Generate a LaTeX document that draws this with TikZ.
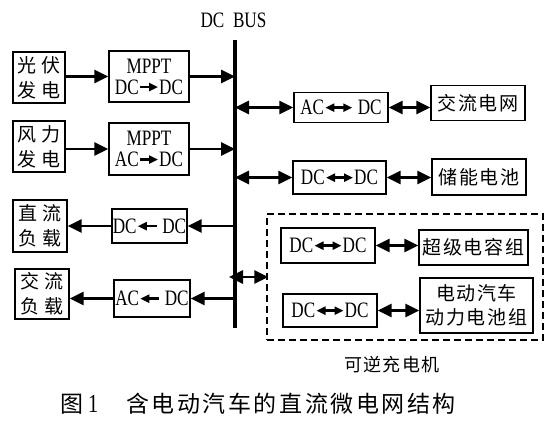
\documentclass[tikz,border=0pt]{standalone}
\usepackage{fontspec}
\setmainfont[FakeStretch=0.78]{Liberation Serif}
\newfontfamily\cjk[LetterSpace=8]{Noto Sans CJK SC}
\newfontfamily\cjkw[LetterSpace=25]{Noto Sans CJK SC}
\newfontfamily\cjkc[LetterSpace=11]{Noto Sans CJK SC}
\usetikzlibrary{arrows.meta}
\newcommand\rA{\tikz[baseline={(0pt,-7pt)}]\draw[line width=2.4pt,-{Triangle[length=9pt,width=8pt]}](0pt,0pt)--(18pt,0pt);}
\newcommand\lA{\tikz[baseline={(0pt,-7pt)}]\draw[line width=2.4pt,{Triangle[length=9pt,width=8pt]}-](0pt,0pt)--(19pt,0pt);}
\newcommand\bA{\tikz[baseline={(0pt,-7pt)}]\draw[line width=2.4pt,{Triangle[length=9pt,width=8pt]}-{Triangle[length=9pt,width=8pt]}](0pt,0pt)--(27pt,0pt);}
\tikzset{
  box/.style={draw, line width=1.4pt, inner sep=0pt, align=center, font=\fontsize{22}{21}\selectfont},
  conn/.style={line width=2.8pt, -{Triangle[length=14pt,width=13pt]}},
  bconn/.style={line width=2.8pt, {Triangle[length=14pt,width=13pt]}-{Triangle[length=14pt,width=13pt]}},
}
\begin{document}
\begin{tikzpicture}[x=1pt,y=-1pt]
\useasboundingbox (0,0) rectangle (553,432);
% bus
\coordinate (bustop) at (235,40);
\coordinate (busbot) at (235,328);
\draw[line width=3.2pt] (bustop) -- (busbot);
\node[font=\fontsize{22}{22}\selectfont] (buslabel) at (233.5,20) {DC\ \ BUS};
% left sources
\node[box,minimum width=52pt,minimum height=51pt,font=\fontsize{19}{25}\cjkw] (pv) at (39,77.5) {光伏\\发电};
\node[box,minimum width=80pt,minimum height=51pt] (mppt1) at (149,76.5) {MPPT\\DC\rA DC};
\node[box,minimum width=52pt,minimum height=51pt,font=\fontsize{19}{25}\cjkw] (wind) at (39,146.5) {风力\\发电};
\node[box,minimum width=80pt,minimum height=52pt] (mppt2) at (149,149) {MPPT\\AC\rA DC};
% left loads
\node[box,minimum width=54pt,minimum height=52pt,font=\fontsize{19}{25}\cjkw] (dcload) at (40,226) {直流\\负载};
\node[box,minimum width=75pt,minimum height=34pt] (dcdc1) at (149.5,226) {DC\lA\ DC};
\node[box,minimum width=54pt,minimum height=50pt,font=\fontsize{19}{25}\cjkw] (acload) at (42,294) {交流\\负载};
\node[box,minimum width=76pt,minimum height=37pt] (acdc2) at (152,298.5) {AC\lA\ DC};
% right side
\node[box,minimum width=94pt,minimum height=30pt] (acdc) at (341,107.5) {AC\bA\ DC};
\node[box,minimum width=94pt,minimum height=35pt,font=\fontsize{19}{20}\cjk] (grid) at (478,103) {交流电网};
\node[box,minimum width=93pt,minimum height=33pt] (dcdc2) at (339.5,177.5) {DC\bA DC};
\node[box,minimum width=94pt,minimum height=36pt,font=\fontsize{19}{20}\cjk] (batt) at (479,177) {储能电池};
% charger
\node[draw,dashed,line width=1.4pt,dash pattern=on 7pt off 4pt,minimum width=276pt,minimum height=126pt,inner sep=0pt] (charger) at (405,277) {};
\node[font=\fontsize{18}{20}\cjk] (chlabel) at (392,365) {可逆充电机};
\node[box,minimum width=94pt,minimum height=35pt] (dcdc3) at (328,245.5) {DC\bA DC};
\node[box,minimum width=109pt,minimum height=35pt,font=\fontsize{19}{20}\cjk] (sc) at (473.5,247.5) {超级电容组};
\node[box,minimum width=94pt,minimum height=33pt] (dcdc4) at (330,310.5) {DC\bA DC};
\node[box,minimum width=113pt,minimum height=55pt,font=\fontsize{19}{24}\cjk] (ev) at (476.5,305.5) {电动汽车\\动力电池组};
% caption
\node[anchor=west,font=\fontsize{23}{23}\cjkc,inner sep=0pt] (caption) at (60,404) {图\hspace{5pt}{\rmfamily\fontsize{26}{26}\selectfont 1}\hspace{28pt}含电动汽车的直流微电网结构};
% connectors
\draw[conn] (pv.east |- mppt1.west) -- (mppt1.west);
\draw[conn] (mppt1.east) -- (mppt1.east -| bustop);
\draw[conn] (wind.east |- mppt2.west) -- (mppt2.west);
\draw[conn] (mppt2.east) -- (mppt2.east -| bustop);
\draw[conn] (dcdc1.east -| bustop) -- (dcdc1.east);
\draw[conn] (dcdc1.west) -- (dcdc1.west -| dcload.east);
\draw[conn] (acdc2.east -| bustop) -- (acdc2.east);
\draw[conn] (acdc2.west) -- (acdc2.west -| acload.east);
\draw[bconn] (acdc.west -| bustop) -- (acdc.west);
\draw[bconn] (acdc.east) -- (acdc.east -| grid.west);
\draw[bconn] (dcdc2.west -| bustop) -- (dcdc2.west);
\draw[bconn] (dcdc2.east) -- (dcdc2.east -| batt.west);
\draw[bconn] ([xshift=-6pt]charger.west -| bustop) -- ([xshift=2pt]charger.west);
\draw[bconn] (dcdc3.east) -- (dcdc3.east -| sc.west);
\draw[bconn] (dcdc4.east) -- (dcdc4.east -| ev.west);
\end{tikzpicture}
\end{document}
